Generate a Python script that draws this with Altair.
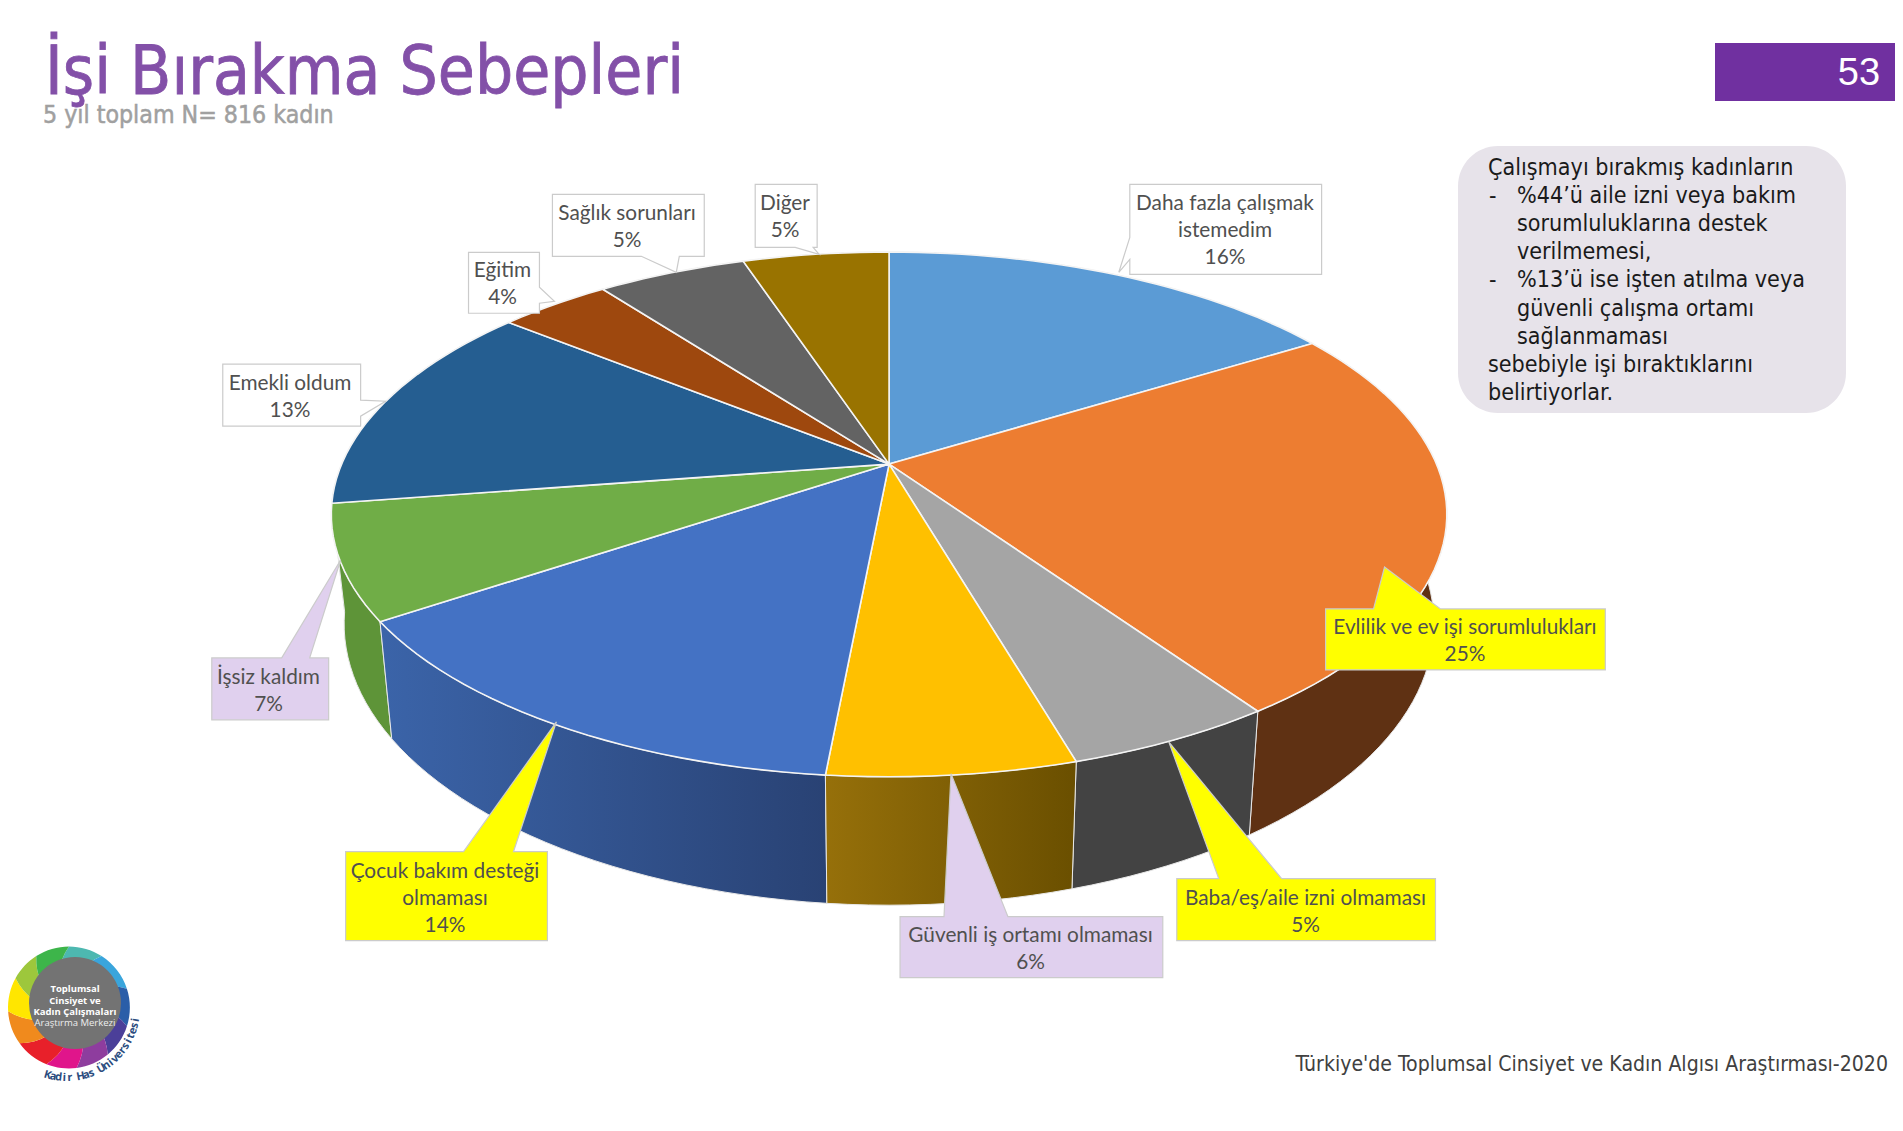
import math
import altair as alt

# ---- data ----
names = ["Daha fazla çalışmak|istemedim", "Evlilik ve ev işi sorumlulukları", "Baba/eş/aile izni olmaması",
         "Güvenli iş ortamı olmaması", "Çocuk bakım desteği|olmaması", "İşsiz kaldım", "Emekli oldum",
         "Eğitim", "Sağlık sorunları", "Diğer"]
shown_pct = [16, 25, 5, 6, 14, 7, 13, 4, 5, 5]
shares = [16.2, 24.2, 5.1, 6.0, 14.1, 7.0, 13.2, 3.9, 5.2, 5.1]
top_colors = ["#5B9BD5", "#ED7D31", "#A5A5A5", "#FFC000", "#4472C4", "#70AD47", "#255E91", "#9E480E", "#636363", "#997300"]
wall_left = ["#37607F", "#5F3113", "#434343", "#96700A", "#3B64A9", "#5E9438", "#16385A", "#5F2B08", "#3B3B3B", "#5C4500"]
wall_right = ["#37607F", "#5F3113", "#434343", "#6A4F00", "#294274", "#5E9438", "#16385A", "#5F2B08", "#3B3B3B", "#5C4500"]
callout_fill = ["#FFFFFF", "#FFFF00", "#FFFF00", "#E0D0EE", "#FFFF00", "#E0D0EE", "#FFFFFF", "#FFFFFF", "#FFFFFF", "#FFFFFF"]
# box left, right, top, bottom and the pointer's base a, tip, base b
callout_boxes = [(1129, 1321, 184, 274), (1325, 1605, 609, 670), (1176, 1435, 879, 941), (899, 1162, 917, 978),
                 (344, 546, 852, 941), (210, 327, 658, 720), (221, 359, 364, 426), (467, 538, 252, 313),
                 (551, 703, 194, 256), (754, 816, 184, 247)]
callout_tails = [((1129, 237), (1118, 272), (1129, 259)), ((1373, 609), (1384, 567), (1440, 609)),
                 ((1218, 879), (1168, 742), (1281, 879)), ((943, 917), (950, 774), (1007, 917)),
                 ((462, 852), (555, 722), (512, 852)), ((280, 658), (339, 560), (308, 658)),
                 ((359, 400), (384, 401), (359, 416)), ((538, 287), (553, 301), (538, 303)),
                 ((640, 256), (675, 272), (678, 256)), ((794, 247), (818, 254), (812, 247))]
ring_colors = ["#4DB8B0", "#3AA5DC", "#2B5EA8", "#4B3F99", "#8E3D9E", "#E0158B", "#E8202A", "#F08A1D", "#FFE600", "#9DC73C", "#3DB54A"]
ring_shares = [9, 11, 10, 9, 9, 8, 9, 9, 9, 8, 9]
note_lines = [("Çalışmayı bırakmış kadınların", 0), ("%44’ü aile izni veya bakım", 2), ("sorumluluklarına destek", 1),
              ("verilmemesi,", 1), ("%13’ü ise işten atılma veya", 2), ("güvenli çalışma ortamı", 1),
              ("sağlanmaması", 1), ("sebebiyle işi bıraktıklarını", 0), ("belirtiyorlar.", 0)]

W, H = 1887, 1100
CX, CY, A, B, K = 888.0, 464.0, 548.0, 253.0, 0.1917


def top_pt(pct):
    t = pct / 100 * 2 * math.pi
    w = 1 + K * math.cos(t)
    return CX + A * math.sin(t) / w, CY - B * math.cos(t) / w


def low_pt(pct):
    x, y = top_pt(pct)
    return CX + (x - CX) * 0.977, CY + (y - CY) * 1.072 + 106.0


def arc(f, a, b):
    n = max(4, int((b - a) * 2))
    return [f(a + (b - a) * i / n) for i in range(n + 1)]


def feature(pts, **props):
    ring = [[round(x - 8, 2), round(y - 8, 2)] for x, y in pts]
    ring.append(ring[0])
    return {"type": "Feature", "properties": props, "geometry": {"type": "Polygon", "coordinates": [ring]}}


proj = alt.Projection(type="identity").to_dict()
layers = []
frame = [(8, 8), (8 + W, 8), (8 + W, 8 + H), (8, 8 + H)]
layers.append(alt.Chart(alt.Data(values=[feature(frame, c="#FFFFFF")])).mark_geoshape(fill="#FFFFFF", strokeWidth=0).project(**proj))

edges = [0]
for s in shares:
    edges.append(edges[-1] + s)

# walls, drawn back to front
order = sorted(range(10), key=lambda i: top_pt((edges[i] + edges[i + 1]) / 2)[1])
for i in order:
    pts = arc(top_pt, edges[i], edges[i + 1]) + arc(low_pt, edges[i], edges[i + 1])[::-1]
    grad = {"gradient": "linear", "x1": 0, "x2": 1, "y1": 0, "y2": 0,
            "stops": [{"offset": 0, "color": wall_left[i]}, {"offset": 1, "color": wall_right[i]}]}
    layers.append(alt.Chart(alt.Data(values=[feature(pts, c=wall_left[i])])).mark_geoshape(fill=grad, stroke="#E8E8E8", strokeWidth=1).project(**proj))

# top surface
tops = [feature([(CX, CY)] + arc(top_pt, edges[i], edges[i + 1]), c=top_colors[i]) for i in range(10)]
layers.append(alt.Chart(alt.Data(values=tops)).mark_geoshape(stroke="#F4F4F4", strokeWidth=1.6).encode(
    fill=alt.Fill("properties.c:N", scale=None)).project(**proj))


# callouts: box outline runs clockwise from top-left, the pointer is spliced in on the edge it sits on
def callout(box, tail):
    l, r, t, b = box
    a, tip, c = tail
    if a[1] == t and c[1] == t:
        return [(l, t), a, tip, c, (r, t), (r, b), (l, b)]
    if a[1] == b and c[1] == b:
        return [(l, t), (r, t), (r, b), c, tip, a, (l, b)]
    if a[0] == r:
        return [(l, t), (r, t), a, tip, c, (r, b), (l, b)]
    return [(l, t), (r, t), (r, b), (l, b), c, tip, a]


calls = [feature(callout(callout_boxes[i], callout_tails[i]), c=callout_fill[i]) for i in range(10)]
layers.append(alt.Chart(alt.Data(values=calls)).mark_geoshape(stroke="#CBCBCB", strokeWidth=1.2).encode(
    fill=alt.Fill("properties.c:N", scale=None)).project(**proj))


def texts(rows, font, color=None, **kw):
    vals = [{"x": r[0] - 8, "y": r[1] - 8, "t": r[2], **({"a": r[3]} if len(r) > 3 else {})} for r in rows]
    enc = dict(x=alt.X("x:Q", scale=None, axis=None), y=alt.Y("y:Q", scale=None, axis=None), text="t:N")
    if vals and "a" in vals[0]:
        enc["angle"] = alt.Angle("a:Q", scale=None)
    return alt.Chart(alt.Data(values=vals)).mark_text(font=font, color=color, baseline="middle", **kw).encode(**enc)


# callout labels
rows = []
for i, n in enumerate(names):
    lines = n.split("|") + [f"{shown_pct[i]}%"]
    l, r, t, b = callout_boxes[i]
    mx, my = (l + r) / 2, (t + b) / 2 + 2.4
    for j, ln in enumerate(lines):
        rows.append((mx, my + (j - (len(lines) - 1) / 2) * 27, ln))
layers.append(texts(rows, "Lato", "#505050", fontSize=20.8, align="center"))

# header
layers.append(texts([(45, 74, "İşi Bırakma Sebepleri")], "DejaVu Sans Condensed", "#8350A8", fontSize=67, align="left", stroke="#8350A8", strokeWidth=0.8))
layers.append(texts([(43, 116, "5 yıl toplam N= 816 kadın")], "DejaVu Sans Condensed", "#A0A0A0", fontSize=24.7, align="left", stroke="#A0A0A0", strokeWidth=0.5))

# page badge
layers.append(alt.Chart(alt.Data(values=[{"a": 1}])).mark_rect(color="#7030A0").encode(
    x=alt.value(1715 - 8), x2=alt.value(W), y=alt.value(43 - 8), y2=alt.value(101 - 8)))
layers.append(texts([(1859, 74, "53")], "Liberation Sans", "#FFFFFF", fontSize=38, align="center"))

# note
layers.append(alt.Chart(alt.Data(values=[{"a": 1}])).mark_rect(color="#E7E3EA", cornerRadius=40).encode(
    x=alt.value(1458 - 8), x2=alt.value(1846 - 8), y=alt.value(146 - 8), y2=alt.value(413 - 8)))
note_rows = []
yy = 168.0
for ln, ind in note_lines:
    if ind == 2:
        note_rows.append((1489, yy, "-"))
    note_rows.append((1517 if ind else 1488, yy, ln))
    yy += 28.1
layers.append(texts(note_rows, "DejaVu Sans Condensed", "#1A1A1A", fontSize=23.1, align="left"))

# footer
layers.append(texts([(1888, 1065, "Türkiye'de Toplumsal Cinsiyet ve Kadın Algısı Araştırması-2020")], "DejaVu Sans Condensed", "#404040", fontSize=21.1, align="right"))

# logo: pinwheel petals, then the grey disc
LX, LY, LR, TW = 67.0, 1008.0, 61.0, 0.7
petals = []
acc = 0
total = sum(ring_shares)


def lp(r, t):
    return LX + r * math.sin(t), LY - r * math.cos(t)


for c, s in zip(ring_colors, ring_shares):
    a = acc / total * 2 * math.pi
    b = (acc + s) / total * 2 * math.pi
    pts = [lp(LR * k / 10, a - TW * (1 - k / 10)) for k in range(11)]
    pts += [lp(LR, a + (b - a) * k / 8) for k in range(1, 9)]
    pts += [lp(LR * k / 10, b - TW * (1 - k / 10)) for k in range(10, -1, -1)]
    petals.append(feature(pts, c=c))
    acc += s
layers.append(alt.Chart(alt.Data(values=petals)).mark_geoshape(strokeWidth=0).encode(
    fill=alt.Fill("properties.c:N", scale=None)).project(**proj))
layers.append(alt.Chart(alt.Data(values=[{"a": 1}])).mark_arc(radius=46, innerRadius=0, theta=0, theta2=6.2832, color="#737373").encode(
    x=alt.value(75 - 8), y=alt.value(1003 - 8)))
layers.append(texts([(75, 989, "Toplumsal"), (75, 1001, "Cinsiyet ve"), (75, 1012, "Kadın Çalışmaları")], "Open Sans", "#FFFFFF", fontSize=9.5, fontWeight="bold", align="center"))
layers.append(texts([(75, 1023, "Araştırma Merkezi")], "Open Sans", "#EEEEEE", fontSize=9.5, align="center"))
curve = "Kadir Has Üniversitesi"
curve_rows = []
for i, ch in enumerate(curve):
    th = 196 - (196 - 100) * i / (len(curve) - 1)
    r = 70
    curve_rows.append((67 + r * math.sin(math.radians(th)), 1008 - r * math.cos(math.radians(th)), ch, (th + 180) % 360))
layers.append(texts(curve_rows, "Open Sans", "#2B4C7E", fontSize=11, fontWeight="bold", align="center"))

chart = alt.layer(*layers).properties(width=W, height=H, padding=0, background="#FFFFFF").configure_view(stroke=None)
chart.save("out.html", embed_options={"renderer": "svg", "actions": False})
